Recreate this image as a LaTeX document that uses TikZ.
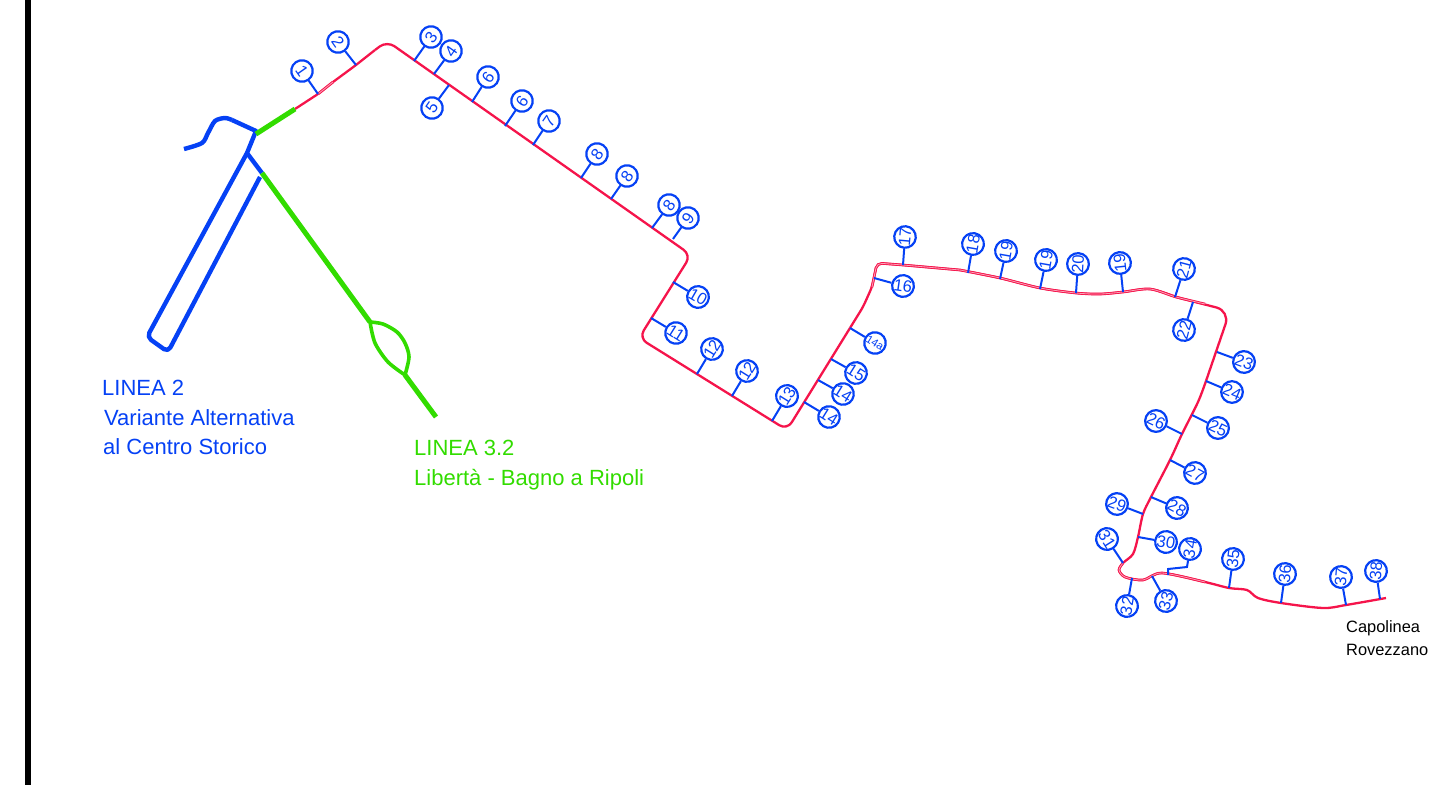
\documentclass[tikz,border=0pt]{standalone}
\usepackage{fontspec}
\setmainfont{Liberation Sans}
\definecolor{routered}{RGB}{245,20,75}
\definecolor{stopblue}{RGB}{5,65,245}
\definecolor{linegreen}{RGB}{50,220,0}
\tikzset{
	stopnum/.style = {draw = stopblue, circle, line width = 2.2pt, fill = white, minimum size = 21.5pt, inner sep = 0pt, text = stopblue, font = \fontsize{16.5}{16.5}\selectfont},
	stopline/.style = {draw = stopblue, line width = 2pt},
	route/.style = {draw = routered, line width = 2.3pt, line join = round},
	routedouble/.style = {draw = routered, line width = 0.9pt, double = routered!40, double distance = 0.8pt},
	bluethick/.style = {draw = stopblue, line width = 4.4pt, line join = round},
	greenthick/.style = {draw = linegreen, line width = 5pt, line join = round},
	caption/.style = {anchor = base west, inner sep = 0pt, font = \fontsize{22}{22}\selectfont}
}

\begin{document}
\begin{tikzpicture}[x = 1pt, y = -1pt]
	\useasboundingbox (0,0) rectangle (1452,785);
	% Left border
	\draw [line width = 6pt] (28,0) -- (28,785);
	% Route
	\draw [route, rounded corners = 2pt] (295,109) -- (318,94) -- (333,82) -- (356,65) -- (375,50);
	\draw [route, rounded corners = 9pt] (375,50) -- (387,41) -- (691,255) -- (639,338) -- (787,430) -- (850,328);
	\draw [route, rounded corners = 5pt] (850,328) -- (863,307) -- (872,287) -- (877,263) -- (903,265) -- (960,270);
	\draw [route] plot [smooth] coordinates {(960,270) (1000,278) (1040,288) (1076,293) (1100,294) (1123,292) (1150,289) (1176,297)};
	\draw [route, rounded corners = 14pt] (1176,297) -- (1230,311) -- (1206,381);
	\draw [route] plot [smooth] coordinates {(1206,381) (1198,402) (1182,434) (1170,460) (1151,497) (1143,514) (1138,537) (1133,554) (1123,563) (1119,570) (1125,577) (1143,580) (1162,573) (1205,582) (1229,588) (1247,590) (1258,598) (1281,603) (1323,608) (1346,605) (1386,598)};
	% Double line stretches
	\draw [routedouble] (318,94) -- (333,82);
	\draw [routedouble, rounded corners = 5pt] (872,287) -- (877,263) -- (903,265) -- (960,270);
	\draw [routedouble] plot [smooth] coordinates {(960,270) (1000,278) (1040,288) (1076,293) (1100,294) (1123,292) (1150,289) (1176,297) (1205,304)};
	\draw [routedouble] plot [smooth] coordinates {(1123,563) (1119,570) (1125,577) (1143,580) (1162,573) (1205,582)};
	% LINEA 2
	\draw [bluethick] plot [smooth] coordinates {(184,149) (202,143) (208,133) (215,121) (225,118) (232,120)};
	\draw [bluethick] (232,120) -- (256,131) -- (247,153) -- (262,173);
	\draw [bluethick, rounded corners = 5pt] (247,153) -- (147,337) -- (168,352) -- (260,177);
	% LINEA 3.2
	\draw [greenthick] (256,134) -- (295,109);
	\draw [greenthick] (262,173) -- (370,322);
	\draw [greenthick] (405,375) -- (436,417);
	\draw [greenthick, line width = 3.6pt] plot [smooth] coordinates {(370,322) (375,343) (388,362) (405,375)};
	\draw [greenthick, line width = 3.6pt] plot [smooth] coordinates {(370,322) (383,324) (397,332) (405,343) (409,357) (405,375)};
	% Captions
	\node [caption, text = stopblue] (linea2) at (102,395) {LINEA 2};
	\node [caption, text = stopblue] (variante) at (104,425) {Variante Alternativa};
	\node [caption, text = stopblue] (centro) at (103,454) {al Centro Storico};
	\node [caption, text = linegreen] (linea32) at (414,455) {LINEA 3.2};
	\node [caption, text = linegreen] (liberta) at (414,485) {Libertà - Bagno a Ripoli};
	\node [caption, font = \fontsize{16.4}{16.4}\selectfont] (capolinea) at (1346,632) {Capolinea};
	\node [caption, font = \fontsize{16.4}{16.4}\selectfont] (rovezzano) at (1346,655) {Rovezzano};
	% Stops, first straight
	\coordinate (f1) at (318,94); \node [stopnum, rotate = -55] (n1) at (302,71) {1}; \draw [stopline] (n1) -- (f1);
	\coordinate (f2) at (356,65); \node [stopnum, rotate = -55] (n2) at (338,42) {2}; \draw [stopline] (n2) -- (f2);
	\coordinate (f3) at (414,61); \node [stopnum, rotate = 55] (n3) at (431,37) {3}; \draw [stopline] (n3) -- (f3);
	\coordinate (f4) at (434,74); \node [stopnum, rotate = 55] (n4) at (451,51) {4}; \draw [stopline] (n4) -- (f4);
	\coordinate (f5) at (449,85); \node [stopnum, rotate = 55] (n5) at (432,108) {5}; \draw [stopline] (n5) -- (f5);
	\coordinate (f6) at (472,102); \node [stopnum, rotate = 55] (n6) at (488,77) {6}; \draw [stopline] (n6) -- (f6);
	\coordinate (f6b) at (505,126); \node [stopnum, rotate = 55] (n6b) at (522,101) {6}; \draw [stopline] (n6b) -- (f6b);
	\coordinate (f7) at (533,145); \node [stopnum, rotate = 55] (n7) at (549,121) {7}; \draw [stopline] (n7) -- (f7);
	\coordinate (f8) at (581,178); \node [stopnum, rotate = 55] (n8) at (597,154) {8}; \draw [stopline] (n8) -- (f8);
	\coordinate (f8b) at (611,199); \node [stopnum, rotate = 55] (n8b) at (627,176) {8}; \draw [stopline] (n8b) -- (f8b);
	\coordinate (f8c) at (652,228); \node [stopnum, rotate = 55] (n8c) at (669,205) {8}; \draw [stopline] (n8c) -- (f8c);
	\coordinate (f9) at (673,239); \node [stopnum, rotate = 55] (n9) at (688,218) {9}; \draw [stopline] (n9) -- (f9);
	% Stops, valley
	\coordinate (f10) at (673,282); \node [stopnum, rotate = -30] (n10) at (698,297) {10}; \draw [stopline] (n10) -- (f10);
	\coordinate (f11) at (651,318); \node [stopnum, rotate = -32] (n11) at (676,333) {11}; \draw [stopline] (n11) -- (f11);
	\coordinate (f12) at (697,374); \node [stopnum, rotate = 58] (n12) at (712,349) {12}; \draw [stopline] (n12) -- (f12);
	\coordinate (f12b) at (732,396); \node [stopnum, rotate = 58] (n12b) at (747,371) {12}; \draw [stopline] (n12b) -- (f12b);
	\coordinate (f13) at (772,421); \node [stopnum, rotate = 58] (n13) at (787,396) {13}; \draw [stopline] (n13) -- (f13);
	\coordinate (f14) at (804,402); \node [stopnum, rotate = -32] (n14) at (829,417) {14}; \draw [stopline] (n14) -- (f14);
	\coordinate (f14b) at (818,380); \node [stopnum, rotate = -32] (n14b) at (843,394) {14}; \draw [stopline] (n14b) -- (f14b);
	\coordinate (f15) at (831,359); \node [stopnum, rotate = -32] (n15) at (856,373) {15}; \draw [stopline] (n15) -- (f15);
	\coordinate (f14a) at (850,328); \node [stopnum, rotate = -32, font = \fontsize{11}{11}\selectfont] (n14a) at (875,343) {14a}; \draw [stopline] (n14a) -- (f14a);
	\coordinate (f16) at (874,278); \node [stopnum, rotate = -8] (n16) at (903,286) {16}; \draw [stopline] (n16) -- (f16);
	% Stops, long stretch
	\coordinate (f17) at (903,265); \node [stopnum, rotate = 85] (n17) at (905,237) {17}; \draw [stopline] (n17) -- (f17);
	\coordinate (f18) at (968,273); \node [stopnum, rotate = 80] (n18) at (973,244) {18}; \draw [stopline] (n18) -- (f18);
	\coordinate (f19) at (1000,279); \node [stopnum, rotate = 80] (n19) at (1006,251) {19}; \draw [stopline] (n19) -- (f19);
	\coordinate (f19b) at (1040,289); \node [stopnum, rotate = 80] (n19b) at (1046,260) {19}; \draw [stopline] (n19b) -- (f19b);
	\coordinate (f20) at (1076,293); \node [stopnum, rotate = 87] (n20) at (1078,264) {20}; \draw [stopline] (n20) -- (f20);
	\coordinate (f19c) at (1123,292); \node [stopnum, rotate = 96] (n19c) at (1120,263) {19}; \draw [stopline] (n19c) -- (f19c);
	\coordinate (f21) at (1175,297); \node [stopnum, rotate = 75] (n21) at (1184,269) {21}; \draw [stopline] (n21) -- (f21);
	\coordinate (f22) at (1193,302); \node [stopnum, rotate = 75] (n22) at (1184,330) {22}; \draw [stopline] (n22) -- (f22);
	% Stops, going south
	\coordinate (f23) at (1217,352); \node [stopnum, rotate = -20] (n23) at (1244,362) {23}; \draw [stopline] (n23) -- (f23);
	\coordinate (f24) at (1206,381); \node [stopnum, rotate = -23] (n24) at (1232,392) {24}; \draw [stopline] (n24) -- (f24);
	\coordinate (f25) at (1192,415); \node [stopnum, rotate = -25] (n25) at (1218,428) {25}; \draw [stopline] (n25) -- (f25);
	\coordinate (f26) at (1182,434); \node [stopnum, rotate = -25] (n26) at (1156,421) {26}; \draw [stopline] (n26) -- (f26);
	\coordinate (f27) at (1170,460); \node [stopnum, rotate = -28] (n27) at (1195,473) {27}; \draw [stopline] (n27) -- (f27);
	\coordinate (f28) at (1151,497); \node [stopnum, rotate = -28] (n28) at (1177,508) {28}; \draw [stopline] (n28) -- (f28);
	\coordinate (f29) at (1143,514); \node [stopnum, rotate = -20] (n29) at (1117,504) {29}; \draw [stopline] (n29) -- (f29);
	\coordinate (f30) at (1138,537); \node [stopnum, rotate = -10] (n30) at (1166,542) {30}; \draw [stopline] (n30) -- (f30);
	\coordinate (f31) at (1123,563); \node [stopnum, rotate = -58] (n31) at (1107,539) {31}; \draw [stopline] (n31) -- (f31);
	\coordinate (f32) at (1132,578); \node [stopnum, rotate = 80] (n32) at (1127,606) {32}; \draw [stopline] (n32) -- (f32);
	\coordinate (f33) at (1152,576); \node [stopnum, rotate = 75] (n33) at (1166,601) {33}; \draw [stopline] (n33) -- (f33);
	\coordinate (f34) at (1168,575); \node [stopnum, rotate = 80] (n34) at (1190,549) {34}; \draw [stopline] (n34) -- (1187,567) -- (1168,569) -- (f34);
	% Stops, last stretch
	\coordinate (f35) at (1229,588); \node [stopnum, rotate = 83] (n35) at (1233,559) {35}; \draw [stopline] (n35) -- (f35);
	\coordinate (f36) at (1281,603); \node [stopnum, rotate = 85] (n36) at (1285,574) {36}; \draw [stopline] (n36) -- (f36);
	\coordinate (f37) at (1346,605); \node [stopnum, rotate = 85] (n37) at (1341,577) {37}; \draw [stopline] (n37) -- (f37);
	\coordinate (f38) at (1380,599); \node [stopnum, rotate = 85] (n38) at (1376,571) {38}; \draw [stopline] (n38) -- (f38);
\end{tikzpicture}
\end{document}
